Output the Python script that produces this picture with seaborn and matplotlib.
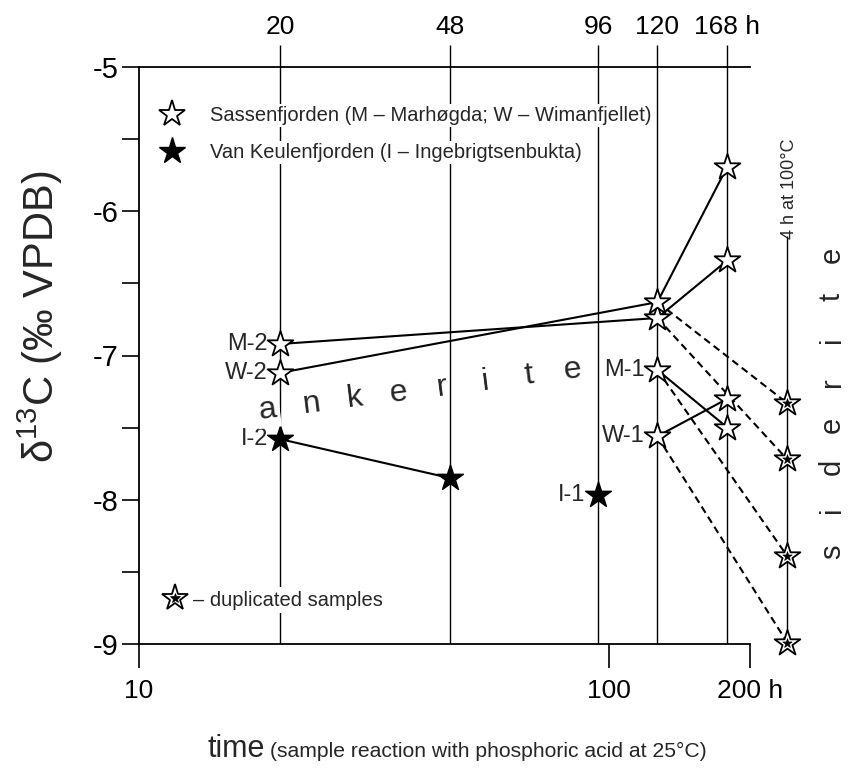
import numpy as np
import pandas as pd
import seaborn as sns
import matplotlib
matplotlib.use("Agg")
import matplotlib.pyplot as plt
from matplotlib.lines import Line2D
from matplotlib.legend_handler import HandlerTuple
from matplotlib.ticker import FixedLocator, FixedFormatter, NullLocator

# ---------------- data ----------------
hour_labels = ["20", "48", "96", "120", "168 h"]
hour_keys = ["20", "48", "96", "120", "168"]
hour_pos = [20, 46, 95, 127, 179]          # column positions as drawn (log axis)
dup_pos = 240                              # "4 h at 100 °C" column
bottom_ticks = [10, 100, 200]
bottom_labels = ["10", "100", "200 h"]
y_ticks = [-9, -8, -7, -6, -5]
y_labels = ["-9", "-8", "-7", "-6", "-5"]

# Sassenfjorden samples (open stars)
m2_cols = ["20", "120", "168"]; m2_vals = [-6.92, -6.74, -6.34]; m2_dup = -7.72
w2_cols = ["20", "120", "168"]; w2_vals = [-7.12, -6.63, -5.69]; w2_dup = -7.33
m1_cols = ["120", "168"];       m1_vals = [-7.10, -7.50];        m1_dup = -8.39
w1_cols = ["120", "168"];       w1_vals = [-7.56, -7.30];        w1_dup = -8.99
# Van Keulenfjorden samples (filled stars)
i2_cols = ["20", "48"]; i2_vals = [-7.58, -7.85]
i1_cols = ["96"];       i1_vals = [-7.97]

sassen = [("M-2", m2_cols, m2_vals, m2_dup), ("W-2", w2_cols, w2_vals, w2_dup),
          ("M-1", m1_cols, m1_vals, m1_dup), ("W-1", w1_cols, w1_vals, w1_dup)]
keulen = [("I-2", i2_cols, i2_vals), ("I-1", i1_cols, i1_vals)]

pos = dict(zip(hour_keys, hour_pos))

pts, segs = [], []
sid = 0
def add_path(cols, vals):
    global sid
    for (c0, v0), (c1, v1) in zip(zip(cols[:-1], vals[:-1]), zip(cols[1:], vals[1:])):
        segs.append(dict(seg=sid, x=pos[c0], y=v0, line="solid"))
        segs.append(dict(seg=sid, x=pos[c1], y=v1, line="solid"))
        sid += 1

for name, cols, vals, dup in sassen:
    for c, v in zip(cols, vals):
        pts.append(dict(sample=name, x=pos[c], y=v, kind="open"))
    pts.append(dict(sample=name, x=dup_pos, y=dup, kind="dup"))
    add_path(cols, vals)
    v120 = vals[cols.index("120")]
    segs.append(dict(seg=sid, x=pos["120"], y=v120, line="dashed"))
    segs.append(dict(seg=sid, x=dup_pos, y=dup, line="dashed"))
    sid += 1
for name, cols, vals in keulen:
    for c, v in zip(cols, vals):
        pts.append(dict(sample=name, x=pos[c], y=v, kind="filled"))
    add_path(cols, vals)
pts = pd.DataFrame(pts)
segs = pd.DataFrame(segs)

# ---------------- style ----------------
sns.set_style("white")
plt.rcParams["font.family"] = ["Liberation Sans", "DejaVu Sans"]
plt.rcParams["axes.unicode_minus"] = False
plt.rcParams["mathtext.fontset"] = "custom"
plt.rcParams["mathtext.rm"] = "Liberation Sans"

W, H = 858, 770
fig = plt.figure(figsize=(W / 100, H / 100), dpi=100)
ax = fig.add_axes([139 / W, 126 / H, 611 / W, 577 / H])
ax.set_xscale("log")
ax.set_xlim(10, 200)
ax.set_ylim(-9, -5)

# vertical reference lines at reaction times
for xp in hour_pos:
    ax.axvline(xp, color="black", lw=1.0, zorder=1)
ax.vlines(dup_pos, -9, -6.17, color="black", lw=1.0, zorder=1, clip_on=False)

# connecting lines
sns.lineplot(data=segs, x="x", y="y", units="seg", estimator=None, style="line",
             dashes={"solid": "", "dashed": (3.5, 2.2)}, color="black", lw=1.5,
             sort=False, legend=False, ax=ax, zorder=3, clip_on=False)

# markers
S = 19.5 ** 2
sns.scatterplot(data=pts[pts.kind == "open"], x="x", y="y", marker="*", s=S,
                color="white", edgecolor="black", linewidth=1.3, ax=ax, zorder=4,
                legend=False, clip_on=False)
sns.scatterplot(data=pts[pts.kind == "filled"], x="x", y="y", marker="*", s=S,
                color="black", edgecolor="black", linewidth=1.0, ax=ax, zorder=4,
                legend=False, clip_on=False)
sns.scatterplot(data=pts[pts.kind == "dup"], x="x", y="y", marker="*", s=S,
                color="white", edgecolor="black", linewidth=1.3, ax=ax, zorder=4,
                legend=False, clip_on=False)
sns.scatterplot(data=pts[pts.kind == "dup"], x="x", y="y", marker="*", s=7 ** 2,
                color="black", edgecolor="black", linewidth=0.5, ax=ax, zorder=5,
                legend=False, clip_on=False)

# sample labels at first point of each sample
first = pts[pts.kind != "dup"].groupby("sample", sort=False).first().reset_index()
for _, r in first.iterrows():
    ax.annotate(r["sample"], (r["x"], r["y"]), xytext=(-9, 0), textcoords="offset points",
                ha="right", va="center", fontsize=17, zorder=6)

# axes, ticks
ax.xaxis.set_major_locator(FixedLocator(bottom_ticks))
ax.xaxis.set_major_formatter(FixedFormatter(bottom_labels))
ax.xaxis.set_minor_locator(NullLocator())
ax.yaxis.set_major_locator(FixedLocator(y_ticks))
ax.yaxis.set_major_formatter(FixedFormatter(y_labels))
ax.yaxis.set_minor_locator(FixedLocator(np.arange(-8.5, -5, 1.0)))
ax.tick_params(axis="x", which="major", direction="out", length=17, width=1.2, pad=8,
               labelsize=19, bottom=True, top=False, color="black", labelcolor="black")
ax.tick_params(axis="y", which="both", direction="out", length=12, width=1.2, pad=3,
               labelsize=21, left=True, right=False, color="black", labelcolor="black")
for sp in ["left", "bottom", "top"]:
    ax.spines[sp].set_color("black")
    ax.spines[sp].set_linewidth(1.3)
ax.spines["right"].set_visible(False)
ax.set_xlabel("")
ax.set_ylabel("δ$^{13}$C (‰ VPDB)", fontsize=30, va="center")
ax.yaxis.set_label_coords((40 - 139) / 611, (644 - 317) / 577)

ax2 = ax.twiny()
ax2.set_xscale("log")
ax2.set_xlim(10, 200)
ax2.xaxis.set_major_locator(FixedLocator(hour_pos))
ax2.xaxis.set_major_formatter(FixedFormatter(hour_labels))
ax2.xaxis.set_minor_locator(NullLocator())
ax2.tick_params(axis="x", which="major", direction="out", length=16, width=1.0, pad=4,
                labelsize=19, color="black", labelcolor="black")
for sp in ax2.spines.values():
    sp.set_visible(False)

# legends
h_open = Line2D([], [], marker="*", ls="none", mfc="white", mec="black", ms=19.5, mew=1.3)
h_fill = Line2D([], [], marker="*", ls="none", mfc="black", mec="black", ms=19.5, mew=1.0)
leg1 = ax.legend([h_open, h_fill],
                 ["Sassenfjorden (M – Marhøgda; W – Wimanfjellet)",
                  "Van Keulenfjorden (I – Ingebrigtsenbukta)"],
                 loc="upper left", bbox_to_anchor=((159 - 139) / 611, (644 - 106) / 577),
                 fontsize=14.5, frameon=False, borderpad=0, borderaxespad=0,
                 handlelength=1.3, handletextpad=1.25, labelspacing=0.9)
for t in leg1.get_texts():
    t.set_bbox(dict(facecolor="white", edgecolor="none", pad=1.5))
leg1.set_zorder(7)
ax.add_artist(leg1)
h_dup = (Line2D([], [], marker="*", ls="none", mfc="white", mec="black", ms=19.5, mew=1.3),
         Line2D([], [], marker="*", ls="none", mfc="black", mec="black", ms=7, mew=0.5))
leg2 = ax.legend([h_dup], ["– duplicated samples"], handler_map={tuple: HandlerTuple(ndivide=1)},
                 loc="center left", bbox_to_anchor=((163 - 139) / 611, (644 - 600) / 577),
                 fontsize=14.5, frameon=False, borderpad=0, borderaxespad=0,
                 handlelength=1.2, handletextpad=0.3)
for t in leg2.get_texts():
    t.set_bbox(dict(facecolor="white", edgecolor="none", pad=2.5))
leg2.set_zorder(7)

# in-plot words
word = "ankerite"
ax_x = np.linspace(268, 572, len(word))
ax_y = np.linspace(410, 370, len(word))
for i, (ch, px, py) in enumerate(zip(word, ax_x, ax_y)):
    t = fig.text(px / W, 1 - py / H, ch, fontsize=23, ha="center", va="center", rotation=7)
    if i == 0:
        t.set_bbox(dict(facecolor="white", edgecolor="none", pad=2))
word2 = "siderite"
sy = np.linspace(552, 255, len(word2))
for ch, py in zip(word2, sy):
    fig.text(832 / W, 1 - py / H, ch, fontsize=21, ha="center", va="center", rotation=90)
fig.text(790 / W, 1 - 189 / H, "4 h at 100°C", fontsize=13, ha="center", va="center", rotation=90)

# x-axis title
fig.text(208 / W, 1 - 757 / H, "time", fontsize=22, ha="left", va="baseline")
fig.text(270 / W, 1 - 757 / H, "(sample reaction with phosphoric acid at 25°C)", fontsize=15.2,
         ha="left", va="baseline")

fig.savefig("out.png", dpi=100, facecolor="white")
